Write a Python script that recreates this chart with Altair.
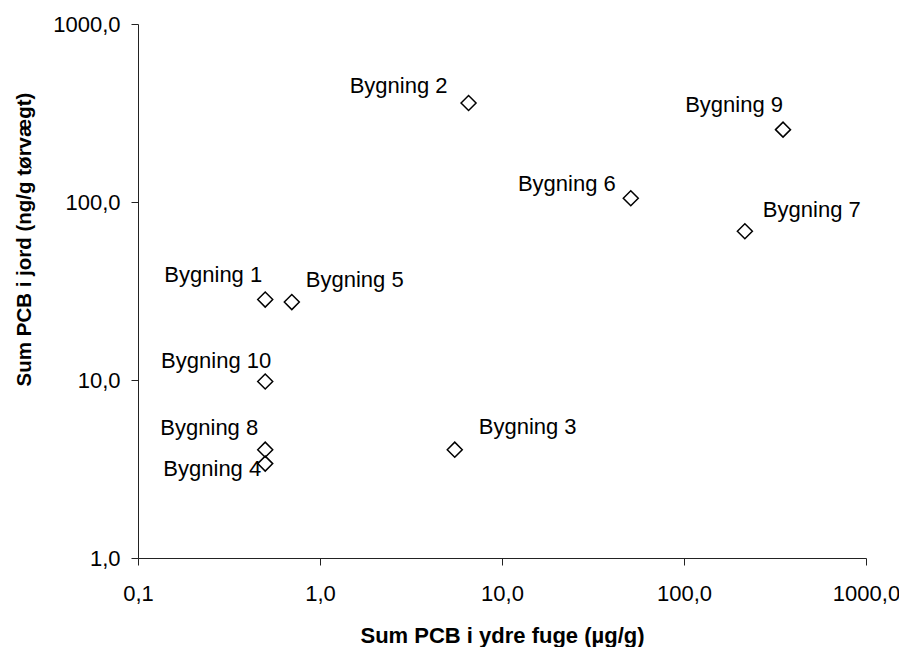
import altair as alt
import pandas as pd

# ---- data ----
names = ["Bygning 1", "Bygning 2", "Bygning 3", "Bygning 4", "Bygning 5",
         "Bygning 6", "Bygning 7", "Bygning 8", "Bygning 9", "Bygning 10"]
fuge = [0.5, 6.55, 5.5, 0.5, 0.7, 51.0, 216.0, 0.5, 350.0, 0.5]      # µg/g
jord = [28.3, 360.0, 4.06, 3.39, 27.4, 105.0, 68.5, 4.06, 255.0, 9.8]  # ng/g
x_ticks = [0.1, 1, 10, 100, 1000]
y_ticks = [1, 10, 100, 1000]

x_title = "Sum PCB i ydre fuge (µg/g)"
y_title = "Sum PCB i jord (ng/g tørvægt)"

# label placement relative to each point (align, dx px, dy px to baseline)
label_layout = {
    "Bygning 1": ("right", -3, -18),
    "Bygning 2": ("right", -21, -10),
    "Bygning 3": ("left", 24, -16),
    "Bygning 4": ("right", -4, 12),
    "Bygning 5": ("left", 14, -15),
    "Bygning 6": ("right", -15, -7),
    "Bygning 7": ("left", 18, -14),
    "Bygning 8": ("right", -7, -15),
    "Bygning 9": ("right", 0, -18),
    "Bygning 10": ("right", 6, -14),
}

df = pd.DataFrame({"name": names, "fuge": fuge, "jord": jord})

FONT = "Liberation Sans"
label_expr = "replace(format(datum.value, '.1f'), '.', ',')"

x_enc = alt.X(
    "fuge:Q",
    scale=alt.Scale(type="log", domain=[0.1, 1000], nice=False),
    axis=alt.Axis(
        values=x_ticks, labelExpr=label_expr, title=x_title,
        labelPadding=18, titleY=84, titleBaseline="alphabetic",
    ),
)
y_enc = alt.Y(
    "jord:Q",
    scale=alt.Scale(type="log", domain=[1, 1000], nice=False),
    axis=alt.Axis(
        values=y_ticks, labelExpr=label_expr, title=y_title,
        labelPadding=11, titleX=-114, titleY=215, titleAngle=-90,
        titleAlign="center", titleBaseline="middle", titleFontSize=20.5,
    ),
)

base = alt.Chart(df)

points = base.mark_point(
    shape="diamond", size=225, filled=False, stroke="black",
    strokeWidth=1.5, opacity=1,
).encode(x=x_enc, y=y_enc)

layers = [points]
for n in names:
    align, dx, dy = label_layout[n]
    layers.append(
        base.transform_filter(alt.datum.name == n)
        .mark_text(align=align, baseline="alphabetic", dx=dx, dy=dy,
                   font=FONT, fontSize=22, color="black")
        .encode(x=alt.X("fuge:Q", scale=alt.Scale(type="log", domain=[0.1, 1000], nice=False)),
                y=alt.Y("jord:Q", scale=alt.Scale(type="log", domain=[1, 1000], nice=False)),
                text="name:N")
    )

chart = (
    alt.layer(*layers)
    .properties(
        width=728, height=534, autosize="none",
        padding={"left": 130, "top": 16, "right": 33, "bottom": 89},
        background="white",
    )
    .configure_view(stroke=None)
    .configure_axis(
        grid=False, domainColor="#222", domainWidth=1, tickColor="#222",
        tickSize=7, tickWidth=1, labelFont=FONT, labelFontSize=22,
        labelColor="black", labelOverlap=False, labelFlush=False,
        titleFont=FONT, titleFontSize=22, titleFontWeight="bold",
        titleColor="black",
    )
)

chart.save("out.html", embed_options={"renderer": "svg", "actions": False})
